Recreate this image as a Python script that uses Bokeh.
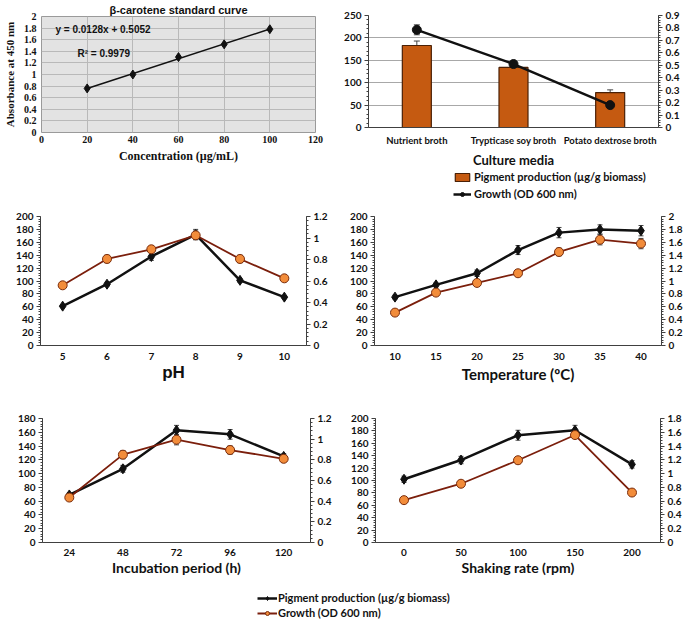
import math
import numpy as np
from bokeh.plotting import figure
from bokeh.models import (Range1d, LinearAxis, FactorRange, ColumnDataSource, Whisker, TeeHead,
                          Label, Legend, LegendItem, FixedTicker, CustomJSTickFormatter)
from bokeh.layouts import column, row
from bokeh.embed import file_html
from bokeh.resources import INLINE

# ---------------- data ----------------
std_conc = [20, 40, 60, 80, 100]
std_abs = [0.76, 1.00, 1.30, 1.52, 1.78]
std_eq = "y = 0.0128x + 0.5052"
std_r2 = "R² = 0.9979"

media = ["Nutrient broth", "Trypticase soy broth", "Potato dextrose broth"]
media_pigment = [183, 134, 78]
media_pigment_err = [10, 6, 6]
media_growth = [0.785, 0.51, 0.18]
media_growth_err = [0.04, 0.015, 0.0]

ph = [5, 6, 7, 8, 9, 10]
ph_pigment = [61, 95, 138, 172, 101, 75]
ph_pigment_err = [2, 3, 6, 8, 3, 2]
ph_growth = [0.56, 0.805, 0.895, 1.025, 0.805, 0.625]
ph_growth_err = [0.02, 0.035, 0.03, 0.04, 0.035, 0.02]

temp = [10, 15, 20, 25, 30, 35, 40]
temp_pigment = [75, 94, 112, 148, 175, 180, 178]
temp_pigment_err = [3, 3, 5, 7, 8, 7, 8]
temp_growth = [0.51, 0.82, 0.97, 1.12, 1.45, 1.64, 1.58]
temp_growth_err = [0.02, 0.03, 0.03, 0.05, 0.06, 0.08, 0.08]

inc = [24, 48, 72, 96, 120]
inc_pigment = [69, 107, 163, 157, 125]
inc_pigment_err = [3, 5, 7, 7, 4]
inc_growth = [0.435, 0.85, 0.995, 0.895, 0.81]
inc_growth_err = [0.02, 0.04, 0.05, 0.04, 0.03]

shake = [0, 50, 100, 150, 200]
shake_pigment = [102, 133, 173, 181, 126]
shake_pigment_err = [5, 6, 8, 8, 6]
shake_growth = [0.615, 0.853, 1.194, 1.56, 0.725]
shake_growth_err = [0.01, 0.02, 0.05, 0.05, 0.01]

LBL_PIG = "Pigment production (µg/g biomass)"
LBL_GRO = "Growth (OD 600 nm)"

# ---------------- styles ----------------
SANS = "Lato"
TICK_SIZE = "10px"
BLACK = "#111111"
ORANGE_LINE = "#7b1f0c"
ORANGE_FILL = "#f28c3a"
BAR_FILL = "#C55A11"
AX = "#404040"


def fmt():
    return CustomJSTickFormatter(code="return String(Math.round(tick*100)/100);")


def ticker(lo, hi, step, nminor):
    n = int(round((hi - lo) / step))
    major = [round(lo + i * step, 4) for i in range(n + 1)]
    ms = step / nminor
    m = int(round((hi - lo) / ms))
    minor = [round(lo + i * ms, 5) for i in range(m + 1)]
    return FixedTicker(ticks=major, minor_ticks=minor)


def make_fig(w, h, bl, br, bt, bb, xr, yr):
    p = figure(width=w, height=h, x_range=xr, y_range=yr, output_backend="svg",
               toolbar_location=None, min_border_left=bl, min_border_right=br,
               min_border_top=bt, min_border_bottom=bb)
    p.outline_line_color = None
    return p


def style_axis(ax, font=SANS, size=TICK_SIZE):
    ax.major_label_text_font = font
    ax.major_label_text_font_style = "bold"
    ax.major_label_text_font_size = size
    ax.major_label_text_color = "#111111"
    ax.axis_line_color = AX
    ax.major_tick_line_color = AX
    ax.minor_tick_line_color = AX
    ax.major_tick_in = 0
    ax.minor_tick_in = 0
    ax.major_tick_out = 4
    ax.minor_tick_out = 2
    ax.major_label_standoff = 3
    ax.axis_label_text_font = font
    ax.axis_label_text_font_style = "bold"
    ax.axis_label_text_color = "#111111"


def style_legend(lg, spacing):
    lg.label_text_font = SANS
    lg.label_text_font_style = "bold"
    lg.label_text_font_size = "11px"
    lg.label_text_color = "#111111"
    lg.glyph_height = 10
    lg.label_height = 12
    lg.spacing = spacing
    lg.padding = 0
    lg.margin = 0
    lg.border_line_color = None
    lg.background_fill_alpha = 0
    lg.inactive_fill_alpha = 0


def legend_fig(w, h):
    f = figure(width=w, height=h, x_range=Range1d(0, 1), y_range=Range1d(0, 1),
               output_backend="svg", toolbar_location=None, min_border=0)
    f.axis.visible = False
    f.grid.visible = False
    f.outline_line_color = None
    return f


def whisk(p, xs, vals, errs, rname=None, size=5):
    src = ColumnDataSource(dict(x=xs, lo=[v - e for v, e in zip(vals, errs)],
                                hi=[v + e for v, e in zip(vals, errs)]))
    kw = {"y_range_name": rname} if rname else {}
    p.add_layout(Whisker(source=src, base="x", lower="lo", upper="hi", line_color="#444",
                         upper_head=TeeHead(size=size, line_color="#444"),
                         lower_head=TeeHead(size=size, line_color="#444"), **kw))


# ---------------- panel 1: standard curve ----------------
p1 = make_fig(340, 200, 39, 25, 15, 68, Range1d(0, 120), Range1d(0, 2))
p1.title.text = "β-carotene standard curve"
p1.title.align = "center"
p1.title.text_font = "Liberation Sans"
p1.title.text_font_size = "11px"
p1.title.text_font_style = "bold"
p1.title.text_color = "#111111"
p1.title.standoff = 2
p1.background_fill_color = "#e3e3e3"
p1.outline_line_color = "#9a9a9a"
p1.xgrid.grid_line_color = "#b9b9b9"
p1.ygrid.grid_line_color = "#b9b9b9"
p1.xaxis.ticker = FixedTicker(ticks=list(range(0, 121, 20)))
p1.yaxis.ticker = ticker(0, 2, 0.2, 1)
p1.yaxis.formatter = fmt()
for ax in p1.xaxis + p1.yaxis:
    style_axis(ax, font="Liberation Serif", size="10px")
    ax.axis_line_color = None
    ax.major_tick_line_color = None
    ax.minor_tick_line_color = None
    ax.major_tick_out = 0
    ax.minor_tick_out = 0
p1.xaxis.major_label_standoff = 3
p1.yaxis.major_label_standoff = 5
p1.xaxis.axis_label = "Concentration (µg/mL)"
p1.xaxis.axis_label_text_font_size = "12px"
p1.xaxis.axis_label_standoff = 3
p1.yaxis.axis_label = "Absorbance at 450 nm"
p1.yaxis.axis_label_text_font_size = "11px"
p1.yaxis.axis_label_standoff = 5
fit = np.polyfit(std_conc, std_abs, 1)
fx = [min(std_conc), max(std_conc)]
p1.line(fx, list(np.polyval(fit, fx)), line_color=BLACK, line_width=1.5)
p1.scatter(std_conc, std_abs, marker="diamond", size=9, color=BLACK)
p1.add_layout(Label(x=14, y=103, x_units="screen", y_units="screen", text=std_eq,
                    text_baseline="middle", text_font="Liberation Sans", text_font_style="bold",
                    text_font_size="10px", text_color="#111111"))
p1.add_layout(Label(x=36, y=79, x_units="screen", y_units="screen", text=std_r2,
                    text_baseline="middle", text_font="Liberation Sans", text_font_style="bold",
                    text_font_size="10px", text_color="#111111"))

# ---------------- panel 2: culture media ----------------
p2 = make_fig(345, 170, 28, 27, 15, 38, FactorRange(*media), Range1d(0, 250))
p2.extra_y_ranges = {"r": Range1d(0, 0.9)}
p2.add_layout(LinearAxis(y_range_name="r"), "right")
p2.xgrid.visible = False
p2.ygrid.grid_line_color = "#a8a8a8"
p2.yaxis[0].ticker = ticker(0, 250, 50, 5)
p2.yaxis[1].ticker = ticker(0, 0.9, 0.1, 5)
p2.yaxis[1].formatter = fmt()
for ax in p2.xaxis + p2.yaxis:
    style_axis(ax)
p2.xaxis.major_tick_out = 0
p2.xaxis.major_label_standoff = 7
p2.xaxis.major_label_text_font_size = "9.5px"
p2.xaxis.axis_label = "Culture media"
p2.xaxis.axis_label_text_font_size = "13px"
p2.xaxis.axis_label_standoff = 3
p2.vbar(x=media, top=media_pigment, width=0.3, fill_color=BAR_FILL,
        line_color="#4a2006", line_width=1.2)
whisk(p2, media, media_pigment, media_pigment_err, size=6)
p2.line(media, media_growth, y_range_name="r", line_color=BLACK, line_width=2.5)
p2.scatter(media, media_growth, y_range_name="r", marker="circle", size=9, color=BLACK)
whisk(p2, media, media_growth, media_growth_err, rname="r", size=6)

# legend of panel 2 (its own strip below the panel)
pl2 = legend_fig(345, 30)
lb = pl2.vbar(x=[0.5], top=[0.5], width=0.1, fill_color=BAR_FILL, line_color="#4a2006",
              line_width=1.2, visible=False)
lg_l = pl2.line([0, 1], media_growth[:2], line_color=BLACK, line_width=2.5, visible=False)
lg_m = pl2.scatter([0, 1], media_growth[:2], marker="circle", size=7, color=BLACK, visible=False)
leg2 = Legend(items=[LegendItem(label=LBL_PIG, renderers=[lb]),
                     LegendItem(label=LBL_GRO, renderers=[lg_l, lg_m])],
              location=(85, 0), orientation="vertical")
style_legend(leg2, 4)
leg2.glyph_width = 18
leg2.label_standoff = 3
pl2.add_layout(leg2)


# ---------------- twin panels ----------------
def twin_panel(w, h, bl, br, bt, bb, xr, yl, ylstep, yr, yrstep, xs, pig, pig_err,
               gro, gro_err, title, tsize, tfont=SANS, tstand=2, xstand=7):
    p = make_fig(w, h, bl, br, bt, bb, Range1d(*xr), Range1d(*yl))
    p.extra_y_ranges = {"r": Range1d(*yr)}
    p.add_layout(LinearAxis(y_range_name="r"), "right")
    p.xgrid.visible = False
    p.ygrid.visible = False
    p.xaxis.ticker = FixedTicker(ticks=xs)
    p.yaxis[0].ticker = ticker(yl[0], yl[1], ylstep, 5)
    p.yaxis[1].ticker = ticker(yr[0], yr[1], yrstep, 5)
    p.yaxis[1].formatter = fmt()
    for ax in p.xaxis + p.yaxis:
        style_axis(ax)
    p.xaxis.major_tick_out = 0
    p.xaxis.minor_tick_out = 0
    p.xaxis.major_label_standoff = xstand
    p.xaxis.axis_label = title
    p.xaxis.axis_label_text_font = tfont
    p.xaxis.axis_label_text_font_size = tsize
    p.xaxis.axis_label_standoff = tstand
    # pigment (black, left axis)
    p.line(xs, pig, line_color=BLACK, line_width=2.5)
    whisk(p, xs, pig, pig_err)
    p.scatter(xs, pig, marker="diamond", size=10, color=BLACK)
    # growth (orange, right axis)
    p.line(xs, gro, y_range_name="r", line_color=ORANGE_LINE, line_width=1.8)
    whisk(p, xs, gro, gro_err, rname="r")
    p.scatter(xs, gro, y_range_name="r", marker="circle", size=9, fill_color=ORANGE_FILL,
              line_color="#7b2d0c", line_width=1)
    return p


p3 = twin_panel(340, 192, 40, 34, 13, 47, (4.5, 10.5), (0, 200), 20, (0, 1.2), 0.2,
                ph, ph_pigment, ph_pigment_err, ph_growth, ph_growth_err,
                "pH", "17px", tfont="Liberation Sans", tstand=0)
p4 = twin_panel(345, 192, 34, 22, 16, 44, (7.5, 42.5), (0, 200), 20, (0, 2), 0.2,
                temp, temp_pigment, temp_pigment_err, temp_growth, temp_growth_err,
                "Temperature (ºC)", "15px")
p5 = twin_panel(340, 188, 42, 30, 24, 38, (12, 132), (0, 180), 20, (0, 1.2), 0.2,
                inc, inc_pigment, inc_pigment_err, inc_growth, inc_growth_err,
                "Incubation period (h)", "14px", tstand=0, xstand=6)
p6 = twin_panel(345, 188, 35, 25, 26, 35, (-25, 225), (0, 200), 20, (0, 1.8), 0.2,
                shake, shake_pigment, shake_pigment_err, shake_growth, shake_growth_err,
                "Shaking rate (rpm)", "14px", tstand=0, xstand=6)

# ---------------- shared legend ----------------
pl = legend_fig(685, 45)
r1 = pl.line(shake, shake_pigment, line_color=BLACK, line_width=2.5, visible=False)
r1m = pl.scatter(shake, shake_pigment, marker="diamond", size=9, color=BLACK, visible=False)
r2 = pl.line(shake, shake_growth, line_color=ORANGE_LINE, line_width=2, visible=False)
r2m = pl.scatter(shake, shake_growth, marker="circle", size=8, fill_color=ORANGE_FILL,
                 line_color="#7b2d0c", visible=False)
legb = Legend(items=[LegendItem(label=LBL_PIG, renderers=[r1, r1m]),
                     LegendItem(label=LBL_GRO, renderers=[r2, r2m])],
              location=(257, 6), orientation="vertical")
style_legend(legb, 2)
legb.glyph_width = 20
legb.label_standoff = 1
pl.add_layout(legb)

layout = column(row(p1, column(p2, pl2)), row(p3, p4), row(p5, p6), pl)
open("out.html", "w").write(file_html(layout, INLINE))
